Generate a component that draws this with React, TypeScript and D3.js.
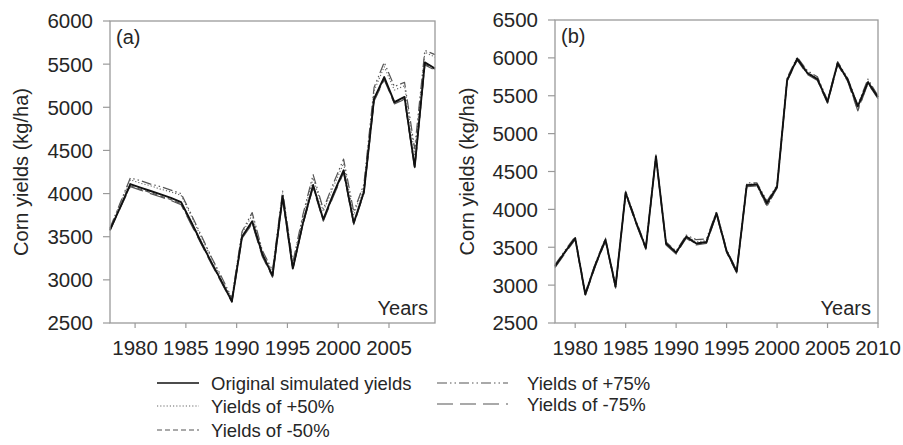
import React from "react";
import * as d3 from "d3";

const years = d3.range(1978, 2011);

// Panel (a)
const aOriginal = [3580, 3840, 4110, 4070, 4030, 3990, 3950, 3900, 3670, 3430, 3200, 2980, 2750, 3500, 3680, 3300, 3050, 3970, 3130, 3660, 4100, 3700, 4000, 4270, 3660, 4020, 5100, 5350, 5060, 5120, 4310, 5520, 5450];
const aPlus50 = [3600, 3880, 4160, 4120, 4090, 4050, 4020, 3980, 3740, 3490, 3250, 3010, 2780, 3540, 3750, 3330, 3090, 4010, 3180, 3730, 4180, 3790, 4080, 4350, 3750, 4080, 5190, 5470, 5200, 5250, 4450, 5640, 5580];
const aMinus50 = [3580, 3840, 4090, 4050, 4010, 3970, 3930, 3880, 3650, 3420, 3190, 2970, 2750, 3490, 3660, 3280, 3040, 3950, 3130, 3650, 4080, 3690, 3980, 4250, 3650, 4010, 5080, 5330, 5050, 5100, 4300, 5500, 5440];
const aPlus75 = [3600, 3890, 4180, 4150, 4110, 4080, 4040, 4000, 3760, 3510, 3260, 3030, 2790, 3560, 3780, 3340, 3110, 4030, 3200, 3760, 4220, 3820, 4120, 4400, 3790, 4110, 5230, 5520, 5240, 5290, 4520, 5660, 5610];
const aMinus75 = [3570, 3830, 4080, 4040, 4000, 3960, 3920, 3870, 3640, 3410, 3180, 2960, 2740, 3480, 3650, 3270, 3030, 3940, 3120, 3640, 4070, 3680, 3970, 4240, 3640, 4000, 5070, 5320, 5040, 5090, 4290, 5490, 5430];

// Panel (b)
const bOriginal = [3250, 3440, 3620, 2880, 3270, 3600, 2980, 4220, 3840, 3490, 4700, 3550, 3430, 3640, 3550, 3570, 3950, 3450, 3180, 4320, 4330, 4080, 4300, 5710, 5990, 5800, 5720, 5420, 5930, 5710, 5360, 5680, 5480];
const bPlus50 = [3260, 3450, 3630, 2890, 3280, 3610, 2990, 4230, 3850, 3500, 4710, 3560, 3440, 3650, 3570, 3590, 3960, 3460, 3190, 4330, 4340, 4100, 4310, 5720, 6000, 5820, 5730, 5430, 5940, 5720, 5370, 5700, 5490];
const bMinus50 = [3240, 3430, 3610, 2870, 3260, 3590, 2970, 4210, 3830, 3480, 4690, 3540, 3420, 3630, 3540, 3560, 3940, 3440, 3170, 4310, 4320, 4040, 4290, 5700, 5980, 5790, 5710, 5410, 5920, 5700, 5310, 5670, 5470];
const bPlus75 = [3270, 3460, 3640, 2900, 3290, 3620, 3000, 4240, 3860, 3510, 4720, 3570, 3450, 3660, 3600, 3610, 3970, 3470, 3200, 4350, 4350, 4110, 4320, 5740, 6010, 5830, 5750, 5440, 5950, 5730, 5380, 5720, 5500];
const bMinus75 = [3230, 3420, 3600, 2860, 3250, 3580, 2960, 4200, 3820, 3470, 4680, 3530, 3410, 3620, 3530, 3550, 3930, 3430, 3160, 4300, 4310, 4050, 4280, 5690, 5970, 5780, 5700, 5400, 5910, 5690, 5300, 5660, 5460];

const aYTicks = [2500, 3000, 3500, 4000, 4500, 5000, 5500, 6000];
const bYTicks = [2500, 3000, 3500, 4000, 4500, 5000, 5500, 6000, 6500];
const aXTicks = [1980, 1985, 1990, 1995, 2000, 2005];
const bXTicks = [1980, 1985, 1990, 1995, 2000, 2005, 2010];

const seriesNames = ["Original simulated yields", "Yields of +50%", "Yields of -50%", "Yields of +75%", "Yields of -75%"];

const styles = [
  { stroke: "#111", width: 1.9, dash: "" },
  { stroke: "#666", width: 1.1, dash: "1.2,2" },
  { stroke: "#555", width: 1.2, dash: "5,3" },
  { stroke: "#555", width: 1.2, dash: "10,3,1.5,3,1.5,3" },
  { stroke: "#555", width: 1.2, dash: "16,7" },
];

const FONT = "'Liberation Sans', Arial, sans-serif";
const AXIS = "#9a9a9a";
const TXT = "#262626";

type PanelProps = {
  left: number; right: number; top: number; bottom: number;
  yDomain: [number, number]; yTicks: number[]; xTicks: number[]; tickShift: number;
  series: number[][]; label: string; titleOffset: number;
};

function Panel(p: PanelProps) {
  const x = d3.scaleLinear().domain([1978, 2010]).range([p.left, p.right]);
  const y = d3.scaleLinear().domain(p.yDomain).range([p.bottom, p.top]);
  const line = d3.line<number>().x((_, i) => x(years[i])).y((v) => y(v));
  const order = [4, 2, 3, 1, 0];
  return (
    <g>
      {order.map((si) => (
        <path key={si} d={line(p.series[si]) || ""} fill="none" stroke={styles[si].stroke}
          strokeWidth={styles[si].width} strokeDasharray={styles[si].dash} strokeLinejoin="round" />
      ))}
      <rect x={p.left} y={p.top} width={p.right - p.left} height={p.bottom - p.top} fill="none" stroke={AXIS} strokeWidth={1.3} />
      {p.yTicks.map((t) => (
        <g key={t}>
          <line x1={p.left - 7} x2={p.left} y1={y(t)} y2={y(t)} stroke={AXIS} strokeWidth={1.2} />
          <text x={p.left - 17} y={y(t)} dy="0.36em" textAnchor="end" fontSize={20.5} fontFamily={FONT} fill={TXT}>{t}</text>
        </g>
      ))}
      {p.xTicks.map((t) => (
        <g key={t}>
          <line x1={x(t + p.tickShift)} x2={x(t + p.tickShift)} y1={p.bottom} y2={p.bottom + 5} stroke={AXIS} strokeWidth={1.2} />
          <text x={x(t + p.tickShift)} y={p.bottom + 32} textAnchor="middle" fontSize={20.5} fontFamily={FONT} fill={TXT}>{t}</text>
        </g>
      ))}
      <text x={p.left + 6} y={p.top + 23} fontSize={20} fontFamily={FONT} fill={TXT}>{p.label}</text>
      <text x={p.right - 7} y={p.bottom - 8} textAnchor="end" fontSize={20} fontFamily={FONT} fill={TXT}>Years</text>
      <g transform={`translate(${p.left - p.titleOffset},${(p.top + p.bottom) / 2}) rotate(-90)`}>
        <text x={0} y={0} textAnchor="middle" fontSize={20} fontFamily={FONT} fill={TXT}>Corn yields (kg/ha)</text>
      </g>
    </g>
  );
}

export default function App() {
  const legendItems = [
    { si: 0, x1: 157, x2: 199, tx: 211, y: 383 },
    { si: 1, x1: 157, x2: 199, tx: 211, y: 406 },
    { si: 2, x1: 157, x2: 199, tx: 211, y: 430 },
    { si: 3, x1: 437, x2: 508, tx: 527, y: 383 },
    { si: 4, x1: 437, x2: 508, tx: 527, y: 404 },
  ];
  return (
    <svg width={903} height={445} style={{ position: "absolute", left: 0, top: 0, background: "#fff" }}>
      <rect x={0} y={0} width={903} height={445} fill="#fff" />
      <Panel left={110} right={435} top={21} bottom={323} yDomain={[2500, 6000]} yTicks={aYTicks}
        xTicks={aXTicks} tickShift={0.47} series={[aOriginal, aPlus50, aMinus50, aPlus75, aMinus75]} label="(a)" titleOffset={82} />
      <Panel left={555} right={878} top={20} bottom={323} yDomain={[2500, 6500]} yTicks={bYTicks}
        xTicks={bXTicks} tickShift={0} series={[bOriginal, bPlus50, bMinus50, bPlus75, bMinus75]} label="(b)" titleOffset={81} />
      {legendItems.map((it) => (
        <g key={it.si}>
          <line x1={it.x1} x2={it.x2} y1={it.y} y2={it.y} stroke={styles[it.si].stroke}
            strokeWidth={it.si === 0 ? 1.3 : 1.2} strokeDasharray={styles[it.si].dash} />
          <text x={it.tx} y={it.y} dy="0.36em" fontSize={18.5} fontFamily={FONT} fill={TXT}>{seriesNames[it.si]}</text>
        </g>
      ))}
    </svg>
  );
}
